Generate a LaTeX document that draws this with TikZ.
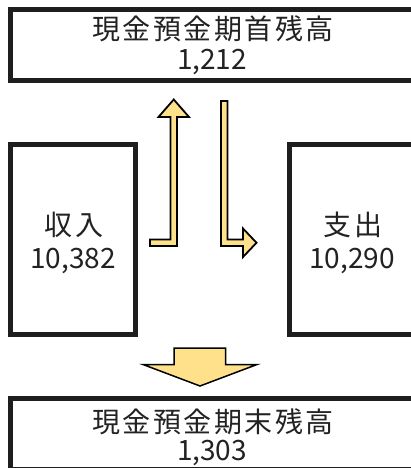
\documentclass[tikz,border=0pt]{standalone}
\usepackage{fontspec}
\newfontfamily\jpfont{Noto Sans CJK JP}
\newfontfamily\jpwide[LetterSpace=9]{Noto Sans CJK JP}
\definecolor{ink}{RGB}{34,34,34}
\definecolor{frame}{RGB}{30,30,30}
\definecolor{arrowfill}{RGB}{255,225,140}
\tikzset{
  box/.style={draw=frame, line width=5pt, fill=white, inner sep=0pt},
  lbl/.style={text=ink, inner sep=0pt, anchor=base, font=\jpfont\fontsize{28}{30}\selectfont},
  widelbl/.style={lbl, font=\jpwide\fontsize{28}{30}\selectfont},
  thinarrow/.style={draw=black, line width=1.8pt, fill=arrowfill, line join=miter},
  bigarrow/.style={draw=black, line width=1.5pt, fill=arrowfill, line join=miter}
}
\begin{document}
\begin{tikzpicture}[x=1pt,y=-1pt]
\clip (0,0) rectangle (411,468);
\fill[white] (0,0) rectangle (411,468);
% boxes
\node[box, minimum width=403pt, minimum height=71pt] (top) at (212,45) {};
\node[box, minimum width=125pt, minimum height=190pt] (inc) at (73,239.5) {};
\node[box, minimum width=125pt, minimum height=190pt] (exp) at (352,239.5) {};
\node[box, minimum width=403pt, minimum height=71pt] (bot) at (212,434) {};
% texts
\node[widelbl] (t1) at (213.2,39.6) {現金預金期首残高};
\node[lbl] (n1) at (212,69.5) {1,212};
\node[widelbl] (t2) at (74.2,235.6) {収入};
\node[lbl] (n2) at (73,268) {10,382};
\node[widelbl] (t3) at (353.2,235.6) {支出};
\node[lbl] (n3) at (352,268) {10,290};
\node[widelbl] (t4) at (213.2,432.6) {現金預金期末残高};
\node[lbl] (n4) at (212,460.5) {1,303};
% up arrow (income to opening balance)
\draw[thinarrow] (150,239.5) -- (170.5,239.5) -- (170.5,117) -- (158.5,117)
  -- (173.75,99.5) -- (189,117) -- (177,117) -- (177,246) -- (150,246) -- cycle;
% down-right arrow (opening balance to expenses)
\draw[thinarrow] (221,101) -- (227.5,101) -- (227.5,239.5) -- (243,239.5)
  -- (243,228.5) -- (256.5,242.75) -- (243,257) -- (243,246) -- (221,246) -- cycle;
% big down arrow
\draw[bigarrow] (174,348) -- (225.5,348) -- (225.5,364.5) -- (257,364.5)
  -- (200,386) -- (143,364.5) -- (174,364.5) -- cycle;
\end{tikzpicture}
\end{document}
